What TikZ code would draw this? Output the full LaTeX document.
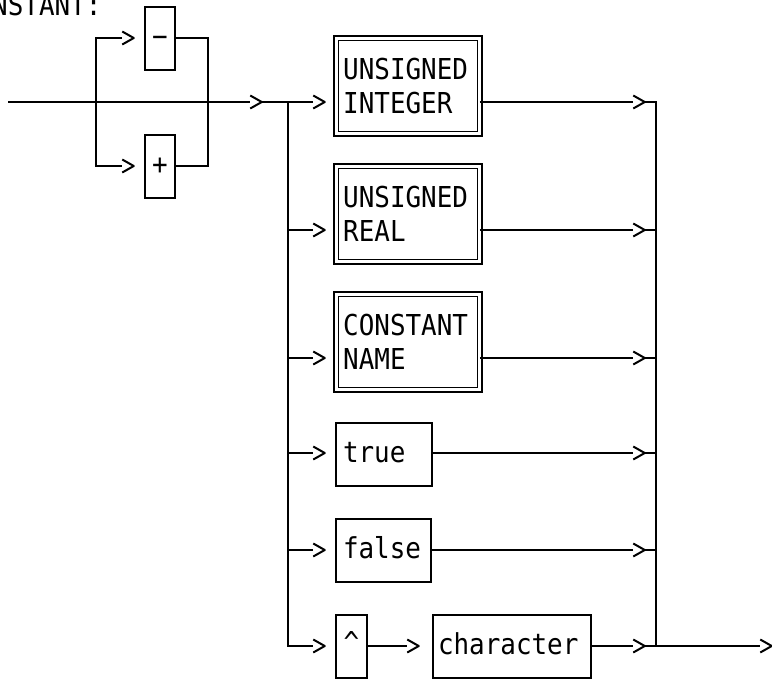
\documentclass[tikz,border=0pt]{standalone}
\usepackage{fontspec}
\setmonofont[FakeStretch=0.9]{DejaVu Sans Mono}
\begin{document}
\begin{tikzpicture}[x=1pt,y=-1pt,
  every node/.style={font=\ttfamily\fontsize{28.8}{34}\selectfont, outer sep=0pt},
  wire/.style={line width=2pt},
  chev/.style={minimum width=11.5pt, minimum height=13pt, inner sep=0pt},
  term/.style={draw, line width=2pt, minimum height=63pt, text height=22pt, text depth=6pt},
  lterm/.style={term, align=left},
  nterm/.style={draw, double, double distance=3pt, line width=1.7pt,
    minimum height=95.6pt, minimum width=143.6pt, inner xsep=7pt,
    text width=129.6pt, align=left}
]
\useasboundingbox (0,0) rectangle (772,681);

% heading
\node[anchor=base west, inner sep=0pt] (title) at (-39,15) {CONSTANT:};

% optional sign
\coordinate (s)  at (8,102);
\coordinate (bl) at (96,102);
\coordinate (br) at (208,102);
\node[chev] (cm) at (128,38) {};
\node[chev] (cp) at (128,166) {};
\node[term, minimum width=30pt, inner xsep=0pt] (minus) at (160,38) {−};
\node[term, minimum width=30pt, inner xsep=0pt] (plus)  at (160,166) {+};
\node[chev] (m0) at (256,102) {};

% alternatives
\coordinate (j) at (288,102);
\node[chev] (r1) at (319,102) {};
\node[chev] (r2) at (319,230) {};
\node[chev] (r3) at (319,358) {};
\node[chev] (r4) at (319,453) {};
\node[chev] (r5) at (319,550) {};
\node[chev] (r6) at (319,646) {};

\node[nterm] (b1) at (408,86)  {UNSIGNED\\INTEGER};
\node[nterm] (b2) at (408,214) {UNSIGNED\\REAL};
\node[nterm] (b3) at (408,342) {CONSTANT\\NAME};
\node[lterm, inner xsep=7pt, text width=82pt] (b4) at (384,454) {true};
\node[lterm, inner xsep=7pt, text width=81pt] (b5) at (383.5,550) {false};
\node[term, minimum width=31pt, inner xsep=0pt] (hat) at (351.5,646) {\raisebox{2pt}{\textasciicircum}};
\node[chev] (c6) at (413,646) {};
\node[lterm, inner xsep=5pt, text width=148pt] (chr) at (512,646) {character};

\node[chev] (q1) at (639,102) {};
\node[chev] (q2) at (639,230) {};
\node[chev] (q3) at (639,358) {};
\node[chev] (q4) at (639,453) {};
\node[chev] (q5) at (639,550) {};
\node[chev] (q6) at (639,646) {};
\coordinate (k6) at (656,646);
\node[chev] (ex) at (766,646) {};

% chevron heads
\foreach \c in {cm,cp,m0,r1,r2,r3,r4,r5,r6,c6,q1,q2,q3,q4,q5,q6,ex}
  \draw[wire, line join=round] (\c.north west) -- (\c.east) -- (\c.south west);

% sign branch
\draw[wire] (s) -- (m0.west);
\draw[wire] (bl) |- (cm.west);
\draw[wire] (bl) |- (cp.west);
\draw[wire] (minus.east) -| (br);
\draw[wire] (plus.east) -| (br);

% fan out
\draw[wire] (m0.east) -- (r1.west);
\draw[wire] (j) |- (r6.west);
\foreach \r in {r2,r3,r4,r5}
  \draw[wire] (\r.west -| j) -- (\r.west);

% between the two boxes of the last branch
\draw[wire] (hat.east) -- (c6.west);

% out of the boxes
\draw[wire] (b1.east |- q1.west) -- (q1.west);
\draw[wire] (b2.east |- q2.west) -- (q2.west);
\draw[wire] (b3.east |- q3.west) -- (q3.west);
\draw[wire] (b4.east |- q4.west) -- (q4.west);
\draw[wire] (b5.east |- q5.west) -- (q5.west);
\draw[wire] (chr.east) -- (q6.west);

% merge
\draw[wire] (q1.east) -| (k6);
\foreach \q in {q2,q3,q4,q5}
  \draw[wire] (\q.east) -- (\q.east -| k6);
\draw[wire] (q6.east) -- (ex.west);
\end{tikzpicture}
\end{document}
